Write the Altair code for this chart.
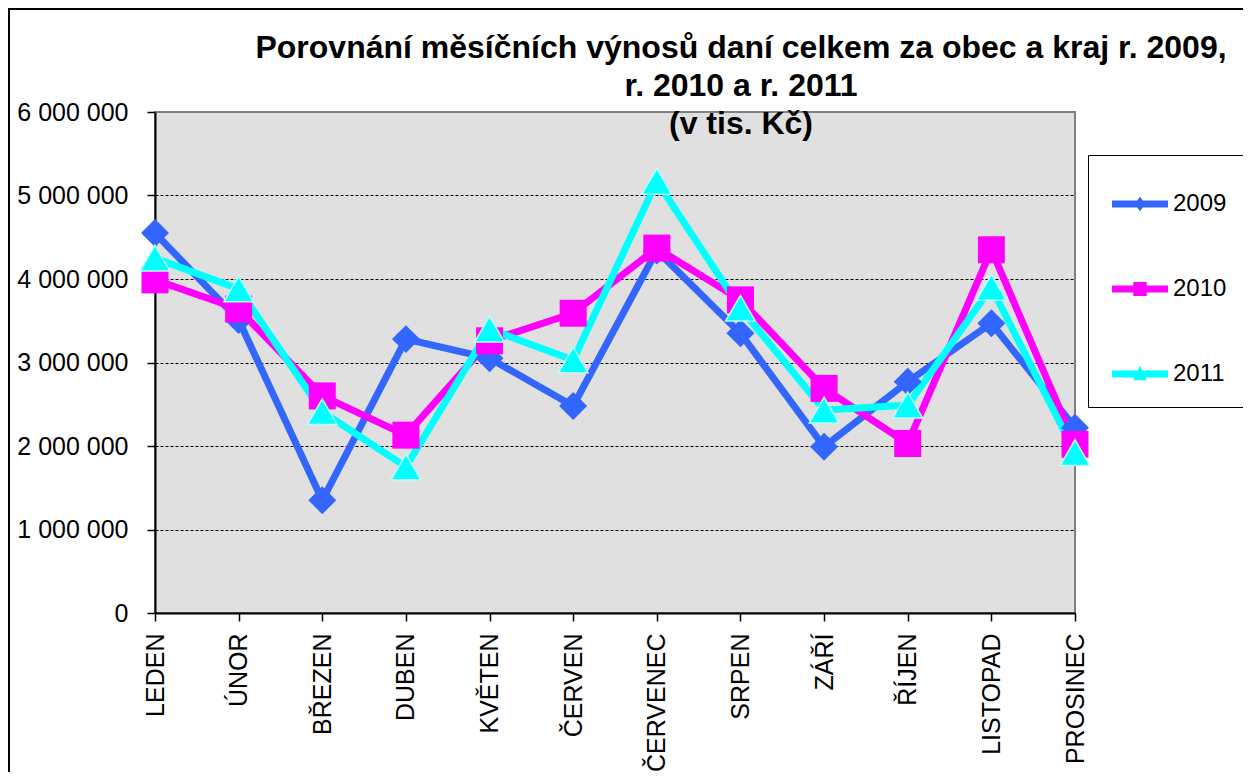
import altair as alt
import pandas as pd

months = ["LEDEN", "ÚNOR", "BŘEZEN", "DUBEN", "KVĚTEN", "ČERVEN",
          "ČERVENEC", "SRPEN", "ZÁŘÍ", "ŘÍJEN", "LISTOPAD", "PROSINEC"]
years = ["2009", "2010", "2011"]
v2009 = [4550000, 3510000, 1350000, 3280000, 3050000, 2480000,
         4340000, 3350000, 1990000, 2770000, 3470000, 2220000]
v2010 = [3990000, 3640000, 2600000, 2130000, 3260000, 3590000,
         4370000, 3750000, 2690000, 2030000, 4350000, 2020000]
v2011 = [4250000, 3880000, 2410000, 1750000, 3400000, 3030000,
         5170000, 3650000, 2430000, 2490000, 3900000, 1920000]
series = {"2009": v2009, "2010": v2010, "2011": v2011}
colors = ["#3366FF", "#FF00FF", "#00FFFF"]
marker_shapes = ["diamond", "square", "triangle-up"]
marker_sizes = [780, 729, 880]
y_ticks = [0, 1000000, 2000000, 3000000, 4000000, 5000000, 6000000]
title_lines = ["Porovnání měsíčních výnosů daní celkem za obec a kraj r. 2009,",
               "r. 2010 a r. 2011", "(v tis. Kč)"]

rows = []
for y in years:
    for m, v in zip(months, series[y]):
        rows.append({"Měsíc": m, "Rok": y, "Hodnota": v})
df = pd.DataFrame(rows)

FONT = "Liberation Sans"
W, H = 920, 501
PAD = {"left": 147, "top": 104, "right": 168, "bottom": 159}

# legend symbols: line segment + small marker
legend_paths = [
    "M-1,-0.125H1V0.125H-1Z M0,-0.26L0.2,0L0,0.26L-0.2,0Z",
    "M-1,-0.125H1V0.125H-1Z M-0.24,-0.25H0.24V0.25H-0.24Z",
    "M-1,-0.125H1V0.125H-1Z M0,-0.3L0.24,0.22H-0.24Z",
]

x_enc = alt.X("Měsíc:N", sort=months, title=None,
              scale=alt.Scale(type="point", padding=0),
              axis=alt.Axis(labelAngle=-90, labelFontSize=25, labelFont=FONT,
                            labelColor="black", labelPadding=12, tickSize=8,
                            tickColor="black", tickWidth=1.5, domainColor="black",
                            domainWidth=2, grid=False))
y_enc = alt.Y("Hodnota:Q", title=None,
              scale=alt.Scale(domain=[0, 6000000], nice=False),
              axis=alt.Axis(values=y_ticks, labelFontSize=25, labelFont=FONT,
                            labelColor="black", labelPadding=19, tickSize=8,
                            tickColor="black", tickWidth=1.5, domainColor="black",
                            domainWidth=2, grid=True, gridColor="black",
                            gridDash=[3, 2], gridWidth=1,
                            gridOpacity={"condition": {"test": "datum.value >= 6000000 || datum.value <= 0", "value": 0}, "value": 1},
                            labelExpr="replace(format(datum.value, ','), regexp(',', 'g'), ' ')"))

base = alt.Chart(df).encode(x=x_enc, y=y_enc)

line_layers = []
marker_layers = []
for y, c, shp, sz in zip(years, colors, marker_shapes, marker_sizes):
    sub = base.transform_filter(alt.datum.Rok == y)
    line_layers.append(sub.mark_line(strokeWidth=7, color=c))
    kw = dict(filled=True, shape=shp, size=sz, opacity=1, color=c)
    if y == "2011":
        kw.update(stroke="#B8FFFF", strokeWidth=1.5)
    marker_layers.append(sub.mark_point(**kw))

legend_kw = dict(orient="none", legendX=933, legendY=43, title=None,
                 symbolSize=3136, symbolStrokeWidth=0, symbolOpacity=1,
                 symbolOffset=3, padding=21, rowPadding=45, labelOffset=5,
                 labelFontSize=24, labelFont=FONT, labelColor="black",
                 fillColor="white", strokeColor="black")
legend_layer = base.mark_point(filled=True, opacity=0).encode(
    color=alt.Color("Rok:N", scale=alt.Scale(domain=years, range=colors),
                    legend=alt.Legend(**legend_kw)),
    shape=alt.Shape("Rok:N", scale=alt.Scale(domain=years, range=legend_paths),
                    legend=alt.Legend(**legend_kw)),
)

frame_df = pd.DataFrame({"f": [0]})
frame_left = alt.Chart(frame_df).mark_rule(color="black", strokeWidth=2).encode(
    x=alt.value(-146), y=alt.value(-103), y2=alt.value(H + PAD["bottom"]))
frame_top = alt.Chart(frame_df).mark_rule(color="black", strokeWidth=2).encode(
    x=alt.value(-147), x2=alt.value(W + PAD["right"]), y=alt.value(-103))

chart = alt.layer(frame_left, frame_top, *line_layers, *marker_layers, legend_layer).properties(
    width=W, height=H,
    title=alt.TitleParams(title_lines, anchor="middle", frame="group",
                          fontSize=32, font=FONT, fontWeight="bold", color="black",
                          lineHeight=38, baseline="alphabetic", offset=0,
                          dx=126, dy=158),
    padding=PAD,
    autosize=alt.AutoSizeParams(type="none"),
).configure_view(fill="#E0E0E0", stroke="#808080", strokeWidth=2)

chart.save("out.html", embed_options={"renderer": "svg", "actions": False})
